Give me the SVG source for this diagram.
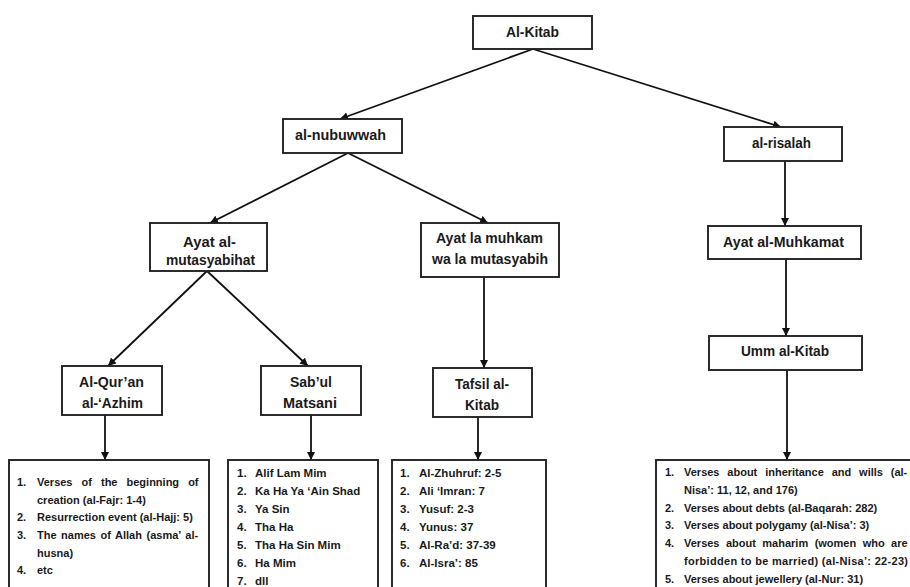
<svg xmlns="http://www.w3.org/2000/svg" width="910" height="587" viewBox="0 0 910 587">
<defs>
<marker id="ah" markerUnits="userSpaceOnUse" markerWidth="9" markerHeight="9" refX="8" refY="4" orient="auto">
<path d="M0,0 L8,4 L0,8 z" fill="#111"/>
</marker>
<style>
.box{fill:#fff;stroke:#222;stroke-width:1.9}
.lbl{font-family:"Liberation Sans",Arial,sans-serif;font-weight:bold;font-size:14px;fill:#1a1a1a;text-anchor:middle}
.lst{font-family:"Liberation Sans",Arial,sans-serif;font-weight:bold;font-size:11px;fill:#1a1a1a}
.l2{font-size:11.5px}
.edge{fill:none;stroke:#111;stroke-width:1.8;marker-end:url(#ah)}
</style>
</defs>
<rect width="910" height="587" fill="#fff"/>

<g id="connectors">
<line class="edge" x1="533" y1="49" x2="340" y2="119"/>
<line class="edge" x1="533" y1="49" x2="781" y2="127"/>
<line class="edge" x1="348" y1="153" x2="210" y2="223"/>
<line class="edge" x1="348" y1="153" x2="488" y2="223"/>
<line class="edge" x1="785" y1="161" x2="785" y2="226"/>
<line class="edge" x1="207" y1="271" x2="108" y2="366"/>
<line class="edge" x1="207" y1="271" x2="308" y2="366"/>
<line class="edge" x1="484" y1="277" x2="484" y2="368"/>
<line class="edge" x1="786" y1="259" x2="786" y2="336"/>
<line class="edge" x1="105" y1="415" x2="105" y2="460"/>
<line class="edge" x1="311" y1="415" x2="311" y2="460"/>
<line class="edge" x1="478" y1="417" x2="478" y2="460"/>
<line class="edge" x1="787" y1="370" x2="787" y2="460"/>
</g>

<g id="al-kitab">
<rect class="box" x="473" y="16" width="119" height="33"/>
<text class="lbl" x="532.5" y="37" textLength="53" lengthAdjust="spacingAndGlyphs">Al-Kitab</text>
</g>
<g id="al-nubuwwah">
<rect class="box" x="283" y="119" width="119" height="34"/>
<text class="lbl" x="340.5" y="140" textLength="91" lengthAdjust="spacingAndGlyphs">al-nubuwwah</text>
</g>
<g id="al-risalah">
<rect class="box" x="724" y="127" width="118" height="34"/>
<text class="lbl" x="781.5" y="148" textLength="59" lengthAdjust="spacingAndGlyphs">al-risalah</text>
</g>
<g id="ayat-al-mutasyabihat">
<rect class="box" x="150" y="223" width="117" height="48"/>
<text class="lbl" x="209.5" y="247" textLength="53" lengthAdjust="spacingAndGlyphs">Ayat al-</text>
<text class="lbl" x="210.5" y="265" textLength="89" lengthAdjust="spacingAndGlyphs">mutasyabihat</text>
</g>
<g id="ayat-la-muhkam">
<rect class="box" x="421" y="223" width="138" height="54"/>
<text class="lbl" x="489.5" y="243" textLength="107" lengthAdjust="spacingAndGlyphs">Ayat la muhkam</text>
<text class="lbl" x="490" y="264" textLength="116" lengthAdjust="spacingAndGlyphs">wa la mutasyabih</text>
</g>
<g id="ayat-al-muhkamat">
<rect class="box" x="708" y="226" width="153" height="33"/>
<text class="lbl" x="783.5" y="247" textLength="121" lengthAdjust="spacingAndGlyphs">Ayat al-Muhkamat</text>
</g>
<g id="al-quran">
<rect class="box" x="62" y="366" width="100" height="49"/>
<text class="lbl" x="111.5" y="387" textLength="65" lengthAdjust="spacingAndGlyphs">Al-Qur’an</text>
<text class="lbl" x="112.5" y="408" textLength="61" lengthAdjust="spacingAndGlyphs">al-‘Azhim</text>
</g>
<g id="sabul-matsani">
<rect class="box" x="261" y="366" width="100" height="49"/>
<text class="lbl" x="311" y="387" textLength="42" lengthAdjust="spacingAndGlyphs">Sab’ul</text>
<text class="lbl" x="310" y="408" textLength="54" lengthAdjust="spacingAndGlyphs">Matsani</text>
</g>
<g id="tafsil-al-kitab">
<rect class="box" x="433" y="368" width="99" height="49"/>
<text class="lbl" x="482" y="389" textLength="54" lengthAdjust="spacingAndGlyphs">Tafsil al-</text>
<text class="lbl" x="482" y="410" textLength="34" lengthAdjust="spacingAndGlyphs">Kitab</text>
</g>
<g id="umm-al-kitab">
<rect class="box" x="709" y="336" width="153" height="34"/>
<text class="lbl" x="785" y="356" textLength="88" lengthAdjust="spacingAndGlyphs">Umm al-Kitab</text>
</g>

<g id="list-quran">
<rect class="box" x="9" y="460" width="200" height="140"/>
<text class="lst" x="17" y="486">1.</text>
<text class="lst" x="37" y="486" word-spacing="6">Verses of the beginning of</text>
<text class="lst" x="37" y="503.5">creation (al-Fajr: 1-4)</text>
<text class="lst" x="17" y="521">2.</text>
<text class="lst" x="37" y="521">Resurrection event (al-Hajj: 5)</text>
<text class="lst" x="17" y="539">3.</text>
<text class="lst" x="37" y="539" word-spacing="1.5">The names of Allah (asma’ al-</text>
<text class="lst" x="37" y="557">husna)</text>
<text class="lst" x="17" y="574">4.</text>
<text class="lst" x="37" y="574">etc</text>
</g>

<g id="list-sabul">
<rect class="box" x="228" y="460" width="150" height="140"/>
<text class="lst l2" x="237" y="477">1.</text><text class="lst l2" x="255" y="477">Alif Lam Mim</text>
<text class="lst l2" x="237" y="495">2.</text><text class="lst l2" x="255" y="495">Ka Ha Ya ‘Ain Shad</text>
<text class="lst l2" x="237" y="513">3.</text><text class="lst l2" x="255" y="513">Ya Sin</text>
<text class="lst l2" x="237" y="531">4.</text><text class="lst l2" x="255" y="531">Tha Ha</text>
<text class="lst l2" x="237" y="549">5.</text><text class="lst l2" x="255" y="549">Tha Ha Sin Mim</text>
<text class="lst l2" x="237" y="567">6.</text><text class="lst l2" x="255" y="567">Ha Mim</text>
<text class="lst l2" x="237" y="585">7.</text><text class="lst l2" x="255" y="585">dll</text>
</g>

<g id="list-tafsil">
<rect class="box" x="392" y="460" width="154" height="140"/>
<text class="lst l2" x="400" y="477">1.</text><text class="lst l2" x="419" y="477">Al-Zhuhruf: 2-5</text>
<text class="lst l2" x="400" y="495">2.</text><text class="lst l2" x="419" y="495">Ali ‘Imran: 7</text>
<text class="lst l2" x="400" y="513">3.</text><text class="lst l2" x="419" y="513">Yusuf: 2-3</text>
<text class="lst l2" x="400" y="531">4.</text><text class="lst l2" x="419" y="531">Yunus: 37</text>
<text class="lst l2" x="400" y="549">5.</text><text class="lst l2" x="419" y="549">Al-Ra’d: 37-39</text>
<text class="lst l2" x="400" y="567">6.</text><text class="lst l2" x="419" y="567">Al-Isra’: 85</text>
</g>

<g id="list-umm">
<rect class="box" x="656" y="460" width="270" height="140"/>
<text class="lst" x="665" y="476">1.</text>
<text class="lst" x="684" y="476" word-spacing="4.8">Verses about inheritance and wills (al-</text>
<text class="lst" x="684" y="494">Nisa’: 11, 12, and 176)</text>
<text class="lst" x="665" y="511.5">2.</text>
<text class="lst" x="684" y="511.5">Verses about debts (al-Baqarah: 282)</text>
<text class="lst" x="665" y="529">3.</text>
<text class="lst" x="684" y="529">Verses about polygamy (al-Nisa’: 3)</text>
<text class="lst" x="665" y="547">4.</text>
<text class="lst" x="684" y="547" word-spacing="3.4">Verses about maharim (women who are</text>
<text class="lst" x="684" y="565" textLength="224" lengthAdjust="spacing">forbidden to be married) (al-Nisa’: 22-23)</text>
<text class="lst" x="665" y="582.5">5.</text>
<text class="lst" x="684" y="582.5">Verses about jewellery (al-Nur: 31)</text>
</g>
</svg>
